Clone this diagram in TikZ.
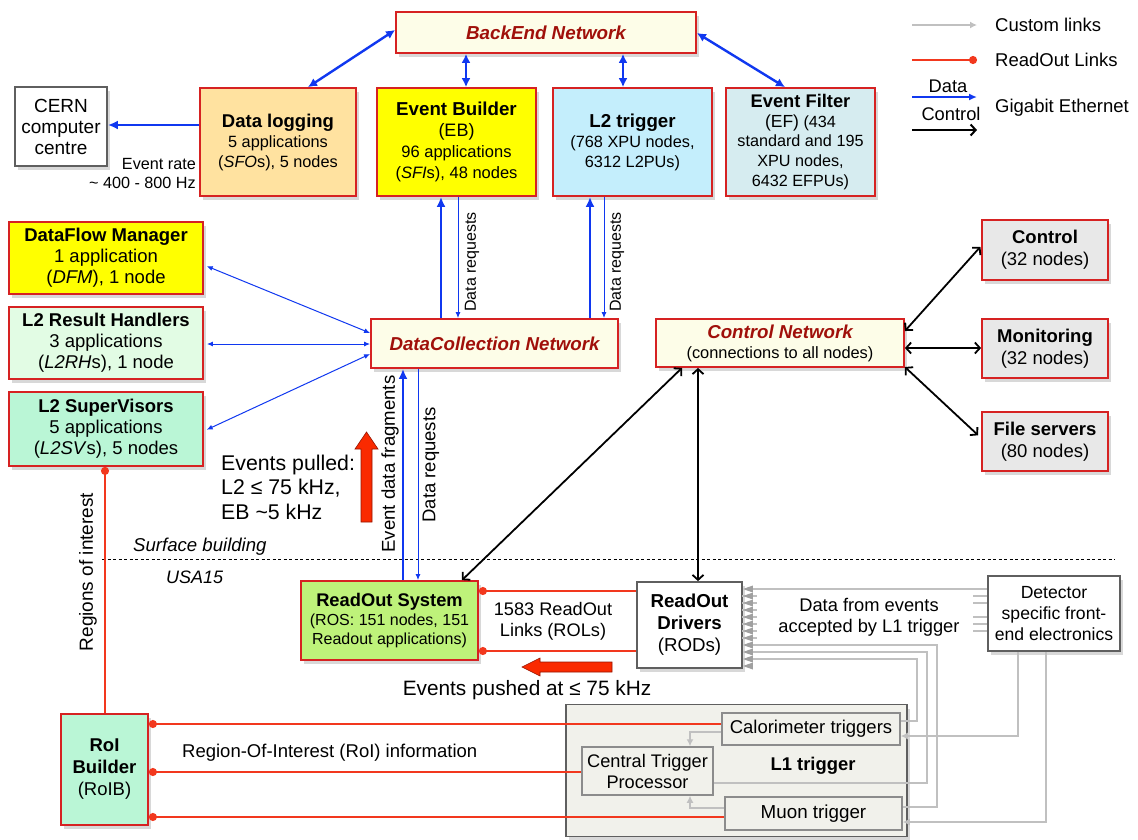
\documentclass[tikz,border=0pt]{standalone}
\usepackage{fontspec}
\setmainfont{Liberation Sans}
\usetikzlibrary{arrows.meta,shadows,calc}
\newcommand\fsz[2]{\fontsize{#1}{#2}\selectfont}
\definecolor{boxred}{RGB}{214,34,34}
\definecolor{netfill}{RGB}{253,253,232}
\definecolor{nettext}{RGB}{160,16,10}
\definecolor{dlfill}{RGB}{255,226,160}
\definecolor{ebfill}{RGB}{255,255,0}
\definecolor{lbfill}{RGB}{196,238,252}
\definecolor{effill}{RGB}{214,236,240}
\definecolor{rhfill}{RGB}{226,252,228}
\definecolor{svfill}{RGB}{186,246,214}
\definecolor{rosfill}{RGB}{190,242,122}
\definecolor{grfill}{RGB}{232,232,232}
\definecolor{ethblue}{RGB}{16,56,240}
\definecolor{rolred}{RGB}{242,56,30}
\definecolor{custgray}{RGB}{192,192,192}
\definecolor{tipgray}{RGB}{160,160,160}
\definecolor{lonefill}{RGB}{241,241,235}
\definecolor{boxgray}{RGB}{95,95,95}
\definecolor{innergray}{RGB}{140,140,140}
\definecolor{arrred}{RGB}{250,42,0}
\definecolor{arrdark}{RGB}{150,20,0}
\tikzset{
  shad/.style={drop shadow={shadow xshift=3pt,shadow yshift=-4pt,opacity=0.3}},
  box/.style={draw=boxred,line width=1.8pt,align=center,inner sep=0pt,shad},
  netbox/.style={box,fill=netfill},
  gbox/.style={draw=boxgray,line width=1.8pt,fill=white,align=center,inner sep=0pt,shad},
  ibox/.style={draw=innergray,line width=1.5pt,fill=lonefill,align=center,inner sep=0pt},
  lbl/.style={inner sep=0pt,align=center},
  bboth/.style={draw=ethblue,line width=2.4pt,arrows={Latex[length=9pt,width=9pt]-Latex[length=9pt,width=9pt]}},
  bup/.style={draw=ethblue,line width=2.4pt,arrows={-Latex[length=10pt,width=9pt]}},
  bthin/.style={draw=ethblue,line width=1pt,arrows={-Latex[length=6pt,width=5pt]}},
  bthinboth/.style={draw=ethblue,line width=1pt,arrows={Latex[length=6pt,width=5pt]-Latex[length=6pt,width=5pt]}},
  kboth/.style={draw=black,line width=1.8pt,arrows={Straight Barb[length=5pt,width=11pt]-Straight Barb[length=5pt,width=11pt]}},
  rol/.style={draw=rolred,line width=2pt,arrows={Circle[length=8pt]-}},
  cust/.style={draw=custgray,line width=1.6pt},
  custarr/.style={cust,arrows={-Latex[length=7pt,width=7pt]}},
}
\begin{document}
\begin{tikzpicture}[x=1pt,y=-1pt]
\useasboundingbox (0,0) rectangle (1138,839);
\fill[white] (0,0) rectangle (1138,839);

% ---------- top row ----------
\node[netbox,minimum width=300pt,minimum height=41pt,font=\fsz{18.8}{20}\bfseries\itshape,text=nettext] (be) at (546,32.5) {BackEnd Network};
\node[gbox,minimum width=92pt,minimum height=79pt,font=\fsz{19}{21}] (cern) at (61,126.5) {CERN\\computer\\centre};
\node[box,fill=dlfill,minimum width=156pt,minimum height=108pt,font=\fsz{16.3}{20}] (dl) at (278,142) {{\fsz{18.5}{20}\bfseries Data logging}\\5 applications\\(\textit{SFO}s), 5 nodes};
\node[box,fill=ebfill,minimum width=159pt,minimum height=108pt,font=\fsz{16.5}{21}] (eb) at (456.5,142) {{\fsz{18.7}{21}\bfseries Event Builder}\\{\fsz{18}{21}(EB)}\\96 applications\\(\textit{SFI}s), 48 nodes};
\node[box,fill=lbfill,minimum width=159pt,minimum height=108pt,font=\fsz{16.3}{20}] (l2) at (632.5,142) {{\fsz{18.7}{20}\bfseries L2 trigger}\\(768 XPU nodes,\\6312 L2PUs)};
\node[box,fill=effill,minimum width=149pt,minimum height=108pt,font=\fsz{16.2}{19.7}] (ef) at (800.5,142) {{\fsz{18.3}{19.7}\bfseries Event Filter}\\{\fsz{17.5}{19.7}(EF)} (434\\standard and 195\\XPU nodes,\\6432 EFPUs)};

\node[lbl,anchor=east,align=right,font=\fsz{16.2}{19}] (rate) at (196,174) {Event rate\\\textasciitilde{} 400 - 800 Hz};

% ---------- legend ----------
\coordinate (lg1a) at (912,25);  \coordinate (lg1b) at (977,25);
\coordinate (lg2a) at (912,60);  \coordinate (lg2b) at (977,60);
\coordinate (lg3a) at (912,97);  \coordinate (lg3b) at (977,97);
\coordinate (lg4a) at (912,130); \coordinate (lg4b) at (977,130);
\draw[custarr] (lg1a) -- (lg1b);
\draw[draw=rolred,line width=2pt,arrows={-Circle[length=8pt]}] (lg2a) -- (lg2b);
\draw[draw=ethblue,line width=2pt,arrows={-Latex[length=8pt,width=7pt]}] (lg3a) -- (lg3b);
\draw[draw=black,line width=2pt,arrows={-Straight Barb[length=5pt,width=11pt]}] (lg4a) -- (lg4b);
\node[lbl,font=\fsz{18.3}{19}] (lgdata) at (948,86) {Data};
\node[lbl,font=\fsz{18.3}{19}] (lgctrl) at (951,114) {Control};
\node[lbl,anchor=west,font=\fsz{18.5}{19}] (lgt1) at (995,25) {Custom links};
\node[lbl,anchor=west,font=\fsz{18.5}{19}] (lgt2) at (995,60) {ReadOut Links};
\node[lbl,anchor=west,font=\fsz{18.5}{19}] (lgt3) at (995,108) {Gigabit Ethernet};

% ---------- left column ----------
\node[box,fill=ebfill,minimum width=194pt,minimum height=72pt,font=\fsz{18.5}{21}] (dfm) at (106,258) {{\bfseries DataFlow Manager}\\1 application\\(\textit{DFM}), 1 node};
\node[box,fill=rhfill,minimum width=194pt,minimum height=72pt,font=\fsz{18.5}{21}] (l2rh) at (106,343) {{\bfseries L2 Result Handlers}\\3 applications\\(\textit{L2RH}s), 1 node};
\node[box,fill=svfill,minimum width=194pt,minimum height=74pt,font=\fsz{18.5}{21}] (l2sv) at (106,429) {{\bfseries L2 SuperVisors}\\5 applications\\(\textit{L2SV}s), 5 nodes};

% ---------- networks ----------
\node[netbox,minimum width=247pt,minimum height=49pt,font=\fsz{18.7}{20}\bfseries\itshape,text=nettext] (dcn) at (494.5,343.5) {DataCollection Network};
\node[netbox,minimum width=248pt,minimum height=48pt,font=\fsz{16.4}{20}] (cn) at (780,343) {{\fsz{18.7}{20}\bfseries\itshape\color{nettext}Control Network}\\(connections to all nodes)};

% ---------- right column ----------
\node[box,fill=grfill,minimum width=126pt,minimum height=60pt,font=\fsz{18.5}{22}] (ctrl) at (1045,250) {{\bfseries Control}\\(32 nodes)};
\node[box,fill=grfill,minimum width=126pt,minimum height=59pt,font=\fsz{18.5}{22}] (mon) at (1045,348.5) {{\bfseries Monitoring}\\(32 nodes)};
\node[box,fill=grfill,minimum width=126pt,minimum height=59pt,font=\fsz{18.5}{22}] (fs) at (1045,441.5) {{\bfseries File servers}\\(80 nodes)};

% ---------- lower part ----------
\node[box,fill=rosfill,minimum width=177pt,minimum height=79pt,font=\fsz{16}{19}] (ros) at (389.5,620.5) {{\fsz{18.3}{19}\bfseries ReadOut System}\\(ROS: 151 nodes, 151\\Readout applications)};
\node[gbox,minimum width=105pt,minimum height=86pt,font=\fsz{18.7}{22}] (rods) at (689.5,625) {{\bfseries ReadOut}\\{\bfseries Drivers}\\(RODs)};
\node[gbox,minimum width=132pt,minimum height=75pt,font=\fsz{17.6}{21}] (det) at (1054,613.5) {Detector\\specific front-\\end electronics};
\node[box,fill=svfill,minimum width=87pt,minimum height=111pt,font=\fsz{18.5}{22}] (roib) at (104.5,769.5) {{\bfseries RoI}\\{\bfseries Builder}\\(RoIB)};

\node[draw=boxgray,line width=1.8pt,fill=lonefill,shad,minimum width=341pt,minimum height=132pt] (l1) at (736.5,770.5) {};
\node[lbl,font=\fsz{18.4}{20}\bfseries] (l1t) at (813,766) {L1 trigger};
\node[ibox,minimum width=178pt,minimum height=32pt,font=\fsz{18.5}{20}] (calo) at (811,729) {Calorimeter triggers};
\node[ibox,minimum width=131pt,minimum height=48pt,font=\fsz{18.2}{21}] (ctp) at (647.5,771) {Central Trigger\\Processor};
\node[ibox,minimum width=177pt,minimum height=33pt,font=\fsz{18.8}{20}] (muon) at (813.5,813.5) {Muon trigger};

% ---------- labels ----------
\node[lbl,rotate=90,font=\fsz{16}{18}] (dr1) at (472,262) {Data requests};
\node[lbl,rotate=90,font=\fsz{16}{18}] (dr2) at (617,262) {Data requests};
\node[lbl,rotate=90,font=\fsz{18.6}{18}] (edf) at (390,464) {Event data fragments};
\node[lbl,rotate=90,font=\fsz{18.5}{18}] (dr3) at (431,465) {Data requests};
\node[lbl,anchor=west,align=left,font=\fsz{21.3}{24.5}] (pulled) at (221,487) {Events pulled:\\L2 ≤ 75 kHz,\\EB \textasciitilde5 kHz};
\node[lbl,anchor=west,font=\fsz{18.6}{19}\itshape] (surf) at (133,547) {Surface building};
\node[lbl,anchor=west,font=\fsz{18}{19}\itshape] (usa) at (166,577) {USA15};
\node[lbl,font=\fsz{18.2}{21}] (rols) at (553,621) {1583 ReadOut\\Links (ROLs)};
\node[lbl,font=\fsz{20.8}{20}] (pushed) at (527,690) {Events pushed at ≤ 75 kHz};
\node[lbl,rotate=90,font=\fsz{19}{18}] (roi) at (88,572) {Regions of interest};
\node[lbl,anchor=west,font=\fsz{18.5}{19}] (roiinfo) at (182,753) {Region-Of-Interest (RoI) information};
\node[lbl,font=\fsz{18.3}{21}] (dfe) at (869,617) {Data from events\\accepted by L1 trigger};

% dashed separator
\draw[dashed,line width=0.8pt,dash pattern=on 3pt off 2.5pt] (102,559) -- (1115,559);

% ---------- blue Gigabit Ethernet ----------
\draw[bboth] ([yshift=2.5pt]be.west) -- ([xshift=30pt]dl.north);
\draw[bboth] (466,0 |- be.south) -- (466,0 |- eb.north);
\draw[bboth] (623,0 |- be.south) -- (623,0 |- l2.north);
\draw[bboth] ([yshift=-0.5pt]be.east) -- ([xshift=-15.5pt]ef.north);
\draw[draw=ethblue,line width=2.4pt,arrows={-Latex[length=10pt,width=9pt]}] (dl.west |- 0,125) -- (cern.east |- 0,125);

\draw[bup] (441,0 |- dcn.north) -- (441,0 |- eb.south);
\draw[bthin] (458,0 |- eb.south) -- (458,0 |- dcn.north);
\draw[bup] (590,0 |- dcn.north) -- (590,0 |- l2.south);
\draw[bthin] (604,0 |- l2.south) -- (604,0 |- dcn.north);

\draw[bthinboth,shorten <=3pt] (dfm.east |- 0,265) -- (dcn.west |- 0,333);
\draw[bthinboth,shorten <=3pt] (l2rh.east |- 0,344) -- (dcn.west |- 0,344);
\draw[bthinboth,shorten <=3pt] (l2sv.east |- 0,431) -- (dcn.west |- 0,354);

\draw[bup] (403,0 |- ros.north) -- (403,0 |- dcn.south);
\draw[bthin] (418,0 |- dcn.south) -- (418,0 |- ros.north);

% ---------- black control ----------
\draw[kboth] (682,0 |- cn.south) -- (462,0 |- ros.north);
\draw[kboth] (698,0 |- cn.south) -- (698,0 |- rods.north);
\draw[kboth,shorten >=1pt] (cn.east |- 0,331) -- (ctrl.west |- 0,246);
\draw[kboth] (cn.east |- 0,348) -- (mon.west |- 0,348);
\draw[kboth,shorten >=4pt] (cn.east |- 0,367) -- (fs.west |- 0,438);

% ---------- red block arrows ----------
\filldraw[fill=arrred,draw=arrdark,line width=0.6pt] (361,522) -- (372,522) -- (372,449) -- (378,449) -- (366.5,432) -- (355,449) -- (361,449) -- cycle;
\filldraw[fill=arrred,draw=arrdark,line width=0.6pt] (612,662) -- (612,672) -- (540,672) -- (540,676) -- (522,667) -- (540,658) -- (540,662) -- cycle;

% ---------- readout links ----------
\draw[rol] (ros.east |- 0,591) -- (rods.west |- 0,591);
\draw[rol] (ros.east |- 0,651) -- (rods.west |- 0,651);
\draw[rol] (105,0 |- l2sv.south) -- (105,0 |- roib.north);
\draw[rol] (roib.east |- 0,724) -- (calo.west |- 0,724);
\draw[rol] (roib.east |- 0,772) -- (ctp.west |- 0,772);
\draw[rol] (roib.east |- 0,817) -- (muon.west |- 0,817);

% ---------- custom links ----------
\draw[cust] (det.west |- 0,589) -- (752,589);
\foreach \k in {1,...,7} {
  \draw[cust] (742,589+7*\k) -- (757,589+7*\k);
}
\foreach \k in {1,2,4,5,6} {
  \draw[cust] (det.west |- 0,589+7*\k) -- (973,589+7*\k);
}
\draw[cust] (muon.east |- 0,807) -- (937,807) -- (937,645) -- (752,645);
\draw[cust] (ctp.east |- 0,783) -- (927,783) -- (927,652) -- (752,652);
\draw[cust] (calo.east |- 0,721) -- (917,721) -- (917,659) -- (752,659);
\foreach \k in {0,...,11} {
  \fill[tipgray] (rods.east |- 0,589+7*\k) -- ++(10,-3.5) -- ++(0,7) -- cycle;
}
\draw[custarr] (1018,0 |- det.south) -- (1018,736) -- (calo.east |- 0,736);
\draw[custarr] (1046,0 |- det.south) -- (1046,822) -- (muon.east |- 0,822);
\draw[custarr] (calo.west |- 0,732) -- (690,732) -- (690,0 |- ctp.north);
\draw[custarr] (muon.west |- 0,808) -- (690,808) -- (690,0 |- ctp.south);
\end{tikzpicture}
\end{document}
